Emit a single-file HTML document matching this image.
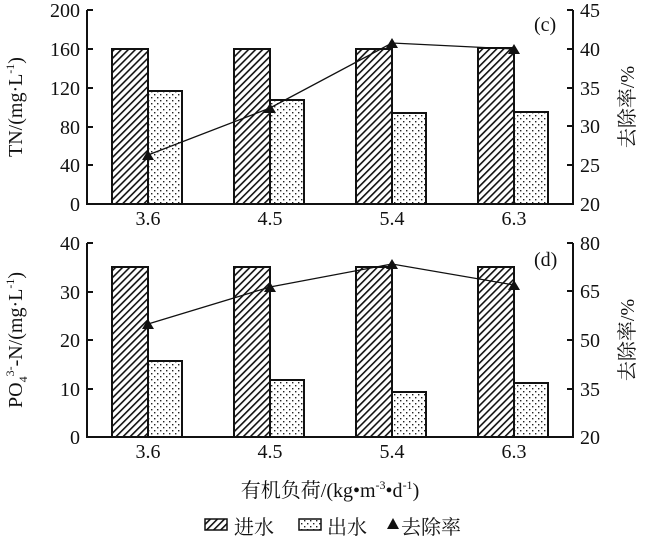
<!DOCTYPE html>
<html><head><meta charset="utf-8"><style>
html,body{margin:0;padding:0;background:#fff;width:647px;height:545px;overflow:hidden}
text{font-family:"Liberation Serif","Noto Serif CJK SC",serif;fill:#111}
</style></head><body>
<svg width="647" height="545" viewBox="0 0 647 545" xmlns="http://www.w3.org/2000/svg">
<defs>
<pattern id="h" patternUnits="userSpaceOnUse" width="5" height="5" patternTransform="rotate(45)">
<rect width="5" height="5" fill="#fff"/><rect x="0" y="0" width="1.6" height="5" fill="#111"/>
</pattern>
<pattern id="d" patternUnits="userSpaceOnUse" width="6" height="6">
<rect width="6" height="6" fill="#fff"/><rect x="1" y="1" width="1.4" height="1.4" fill="#222"/><rect x="4" y="4" width="1.4" height="1.4" fill="#222"/>
</pattern>
</defs>
<g stroke="#111" stroke-width="2">
<rect x="112" y="49" width="36" height="155" fill="url(#h)"/>
<rect x="148" y="91" width="34" height="113" fill="url(#d)"/>
<rect x="234" y="49" width="36" height="155" fill="url(#h)"/>
<rect x="270" y="100" width="34" height="104" fill="url(#d)"/>
<rect x="356" y="49" width="36" height="155" fill="url(#h)"/>
<rect x="392" y="113" width="34" height="91" fill="url(#d)"/>
<rect x="478" y="48" width="36" height="156" fill="url(#h)"/>
<rect x="514" y="112" width="34" height="92" fill="url(#d)"/>
<rect x="112" y="267" width="36" height="170" fill="url(#h)"/>
<rect x="148" y="361" width="34" height="76" fill="url(#d)"/>
<rect x="234" y="267" width="36" height="170" fill="url(#h)"/>
<rect x="270" y="380" width="34" height="57" fill="url(#d)"/>
<rect x="356" y="267" width="36" height="170" fill="url(#h)"/>
<rect x="392" y="392" width="34" height="45" fill="url(#d)"/>
<rect x="478" y="267" width="36" height="170" fill="url(#h)"/>
<rect x="514" y="383" width="34" height="54" fill="url(#d)"/>
</g>
<g stroke="#111" stroke-width="2" fill="none">
<path d="M87 10V204H573V10"/>
<path d="M87 10h6M87 49h6M87 88h6M87 127h6M87 165h6"/>
<path d="M573 10h-6M573 49h-6M573 88h-6M573 126h-6M573 165h-6"/>
<path d="M87 243V437H573V243"/>
<path d="M87 243h6M87 292h6M87 340h6M87 389h6"/>
<path d="M573 243h-6M573 291h-6M573 340h-6M573 389h-6"/>
</g>
<g stroke="#111" stroke-width="1.3" fill="none">
<polyline points="148,155 270,108 392,43 514,49"/>
<polyline points="148,324 270,287 392,264 514,285"/>
</g>
<g fill="#111">
<path d="M148,150 l-6,10 h12z M270,103 l-6,10 h12z M392,38 l-6,10 h12z M514,44 l-6,10 h12z"/>
<path d="M148,319 l-6,10 h12z M270,282 l-6,10 h12z M392,259 l-6,10 h12z M514,280 l-6,10 h12z"/>
</g>
<g font-size="20" text-anchor="end">
<text x="80" y="17">200</text><text x="80" y="56">160</text><text x="80" y="95">120</text><text x="80" y="134">80</text><text x="80" y="172">40</text><text x="80" y="211">0</text>
<text x="80" y="250">40</text><text x="80" y="299">30</text><text x="80" y="347">20</text><text x="80" y="396">10</text><text x="80" y="444">0</text>
</g>
<g font-size="20">
<text x="580" y="17">45</text><text x="580" y="56">40</text><text x="580" y="95">35</text><text x="580" y="133">30</text><text x="580" y="172">25</text><text x="580" y="211">20</text>
<text x="580" y="250">80</text><text x="580" y="298">65</text><text x="580" y="347">50</text><text x="580" y="396">35</text><text x="580" y="444">20</text>
<text x="534" y="31">(c)</text><text x="534" y="266">(d)</text>
</g>
<g font-size="20" text-anchor="middle">
<text x="148" y="225">3.6</text><text x="270" y="225">4.5</text><text x="392" y="225">5.4</text><text x="514" y="225">6.3</text>
<text x="148" y="458">3.6</text><text x="270" y="458">4.5</text><text x="392" y="458">5.4</text><text x="514" y="458">6.3</text>
<text x="330" y="497">有机负荷/(kg•m<tspan font-size="12" dy="-8">-3</tspan><tspan dy="8">•d</tspan><tspan font-size="12" dy="-8">-1</tspan><tspan dy="8">)</tspan></text>
</g>
<text font-size="20" text-anchor="middle" transform="translate(22,107) rotate(-90)">TN/(mg·L<tspan font-size="12" dy="-8">-1</tspan><tspan dy="8">)</tspan></text>
<text font-size="20" text-anchor="middle" transform="translate(22,340) rotate(-90)">PO<tspan font-size="12" dy="5">4</tspan><tspan font-size="12" dy="-13">3-</tspan><tspan dy="8">-N/(mg·L</tspan><tspan font-size="12" dy="-8">-1</tspan><tspan dy="8">)</tspan></text>
<text font-size="20" text-anchor="middle" transform="translate(634,107) rotate(-90)">去除率/%</text>
<text font-size="20" text-anchor="middle" transform="translate(634,340) rotate(-90)">去除率/%</text>
<g>
<rect x="205" y="519" width="22" height="11" fill="url(#h)" stroke="#111" stroke-width="1.5"/>
<text x="234" y="534" font-size="20">进水</text>
<rect x="299" y="519" width="22" height="11" fill="url(#d)" stroke="#111" stroke-width="1.5"/>
<text x="327" y="534" font-size="20">出水</text>
<path d="M393,518 l-6,11 h12z" fill="#111"/>
<text x="401" y="534" font-size="20">去除率</text>
</g>
</svg>
</body></html>
